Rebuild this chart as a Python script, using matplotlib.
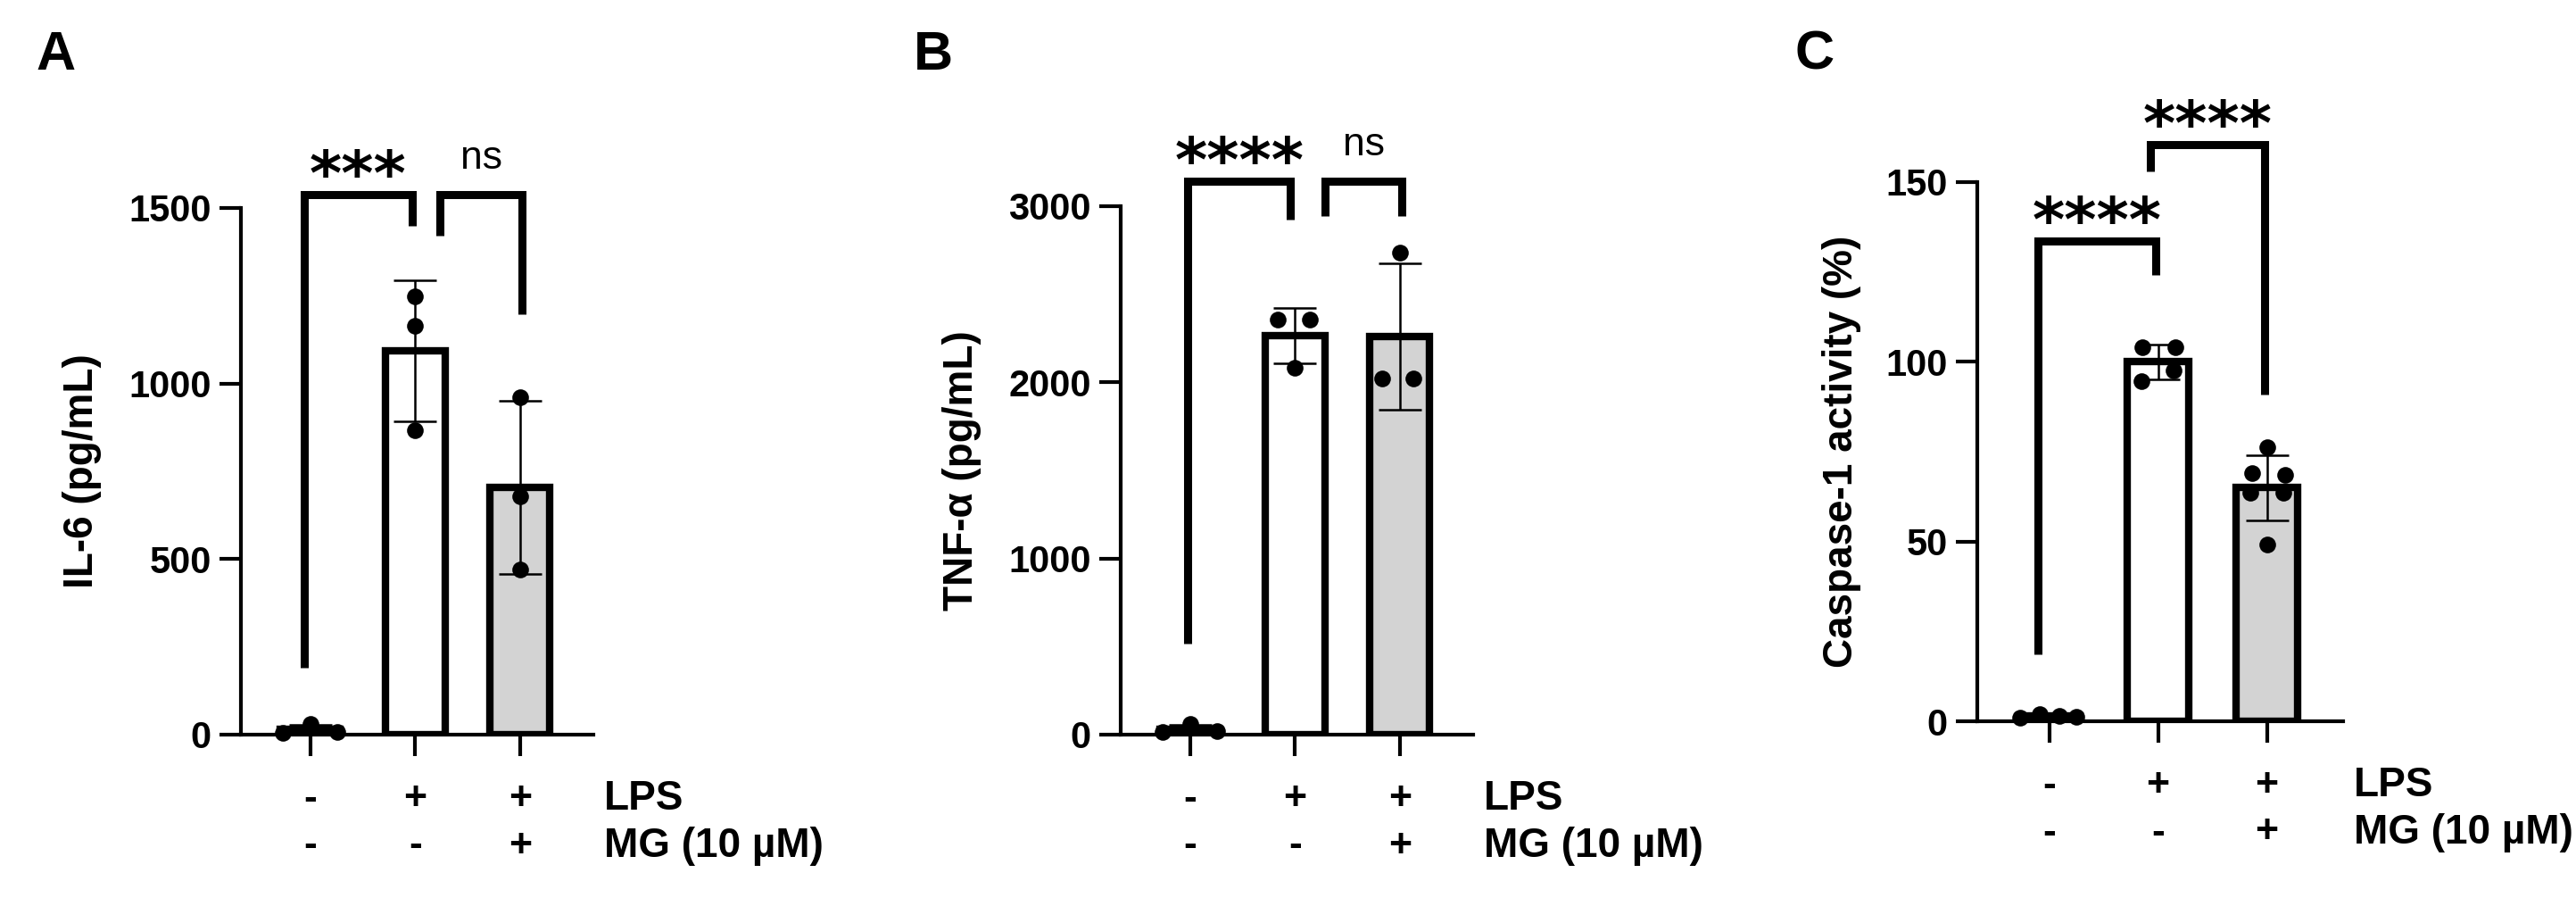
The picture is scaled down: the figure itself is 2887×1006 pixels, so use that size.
import numpy as np
import matplotlib.pyplot as plt

plt.rcParams['font.family'] = ['Liberation Sans', 'DejaVu Sans']

# treatment groups (x positions) and the +/- table under the x axis
groups = [0, 1, 2]
lps_row = ['-', '+', '+']
mg_row = ['-', '-', '+']
row_names = ['LPS', 'MG (10 µM)']
bar_colors = ['white', 'white', '#d3d3d3']

# A: IL-6 (pg/mL), replicate values per group
il6 = [[6, 30, 8], [1249, 1164, 866], [962, 679, 470]]
il6_jit = [[-0.26, 0, 0.26], [0, 0, 0], [0, 0, 0]]
il6_sig = [(-0.06, 0.97, 1538, 191, 1448, '***'),
           (1.24, 2.02, 1538, 1421, 1198, 'ns')]

# B: TNF-a (pg/mL)
tnf = [[15, 60, 20], [2356, 2356, 2085], [2739, 2020, 2020]]
tnf_jit = [[-0.26, 0, 0.26], [-0.16, 0.14, 0], [0, -0.17, 0.13]]
tnf_sig = [(-0.02, 0.96, 3142, 517, 2924, '****'),
           (1.29, 2.02, 3142, 2944, 2944, 'ns')]

# C: caspase-1 activity (%)
casp = [[1.0, 2.0, 1.5, 1.2],
        [104, 104, 94.5, 97.5],
        [76.3, 69.1, 68.6, 63.5, 63.5, 49.1]]
casp_jit = [[-0.27, -0.09, 0.09, 0.25],
            [-0.14, 0.16, -0.15, 0.14],
            [0, -0.14, 0.17, -0.15, 0.15, 0]]
casp_sig = [(-0.10, 0.975, 133.6, 18.6, 124.2, '****'),
            (0.93, 1.98, 160.4, 153, 90.9, '****')]

fig = plt.figure(figsize=(28.87, 10.06), dpi=100)


def panel(rect, vals, jit, sig, ymax, step, ylab, labx, letter, letx):
    ax = fig.add_axes(rect)
    means = [np.mean(v) for v in vals]
    sds = [np.std(v, ddof=1) for v in vals]
    ax.bar(groups, means, width=0.57, color=bar_colors, edgecolor='black',
           linewidth=6, zorder=2)
    ax.errorbar(groups, means, yerr=sds, fmt='none', ecolor='black',
                elinewidth=1.8, capsize=17, capthick=1.8, zorder=3)
    for g, v, j in zip(groups, vals, jit):
        ax.scatter(np.array(j) + g, v, s=180, color='black', zorder=4,
                   clip_on=False, linewidths=0)

    # significance brackets
    for x1, x2, top, yl, yr, txt in sig:
        ax.plot([x1, x1, x2, x2], [yl, top, top, yr], color='black', lw=6.5,
                clip_on=False, solid_joinstyle='miter', solid_capstyle='butt')
        if txt == 'ns':
            ax.annotate(txt, xy=((x1 + x2) / 2, top), xytext=(0, 21),
                        textcoords='offset points', ha='center', va='baseline',
                        fontsize=32, annotation_clip=False)
        else:
            ax.annotate(txt, xy=((x1 + x2) / 2, top), xytext=(0, 0),
                        textcoords='offset points', ha='center', va='baseline',
                        fontsize=50, family='DejaVu Sans', fontweight='bold',
                        annotation_clip=False)

    ax.set_xlim(-0.66, 2.70)
    ax.set_ylim(0, ymax)
    ax.set_yticks(np.arange(0, ymax + 1, step))
    ax.set_xticks(groups)
    ax.set_xticklabels([])
    for s in ['top', 'right']:
        ax.spines[s].set_visible(False)
    for s in ['left', 'bottom']:
        ax.spines[s].set_linewidth(3)
    ax.tick_params(direction='out', length=17, width=3, labelsize=30, pad=7)
    for lbl in ax.get_yticklabels():
        lbl.set_fontweight('bold')
    ax.set_ylabel(ylab, fontsize=33, fontweight='bold')
    ax.yaxis.set_label_coords(labx, 0.5)

    # +/- table
    for g, a, b in zip(groups, lps_row, mg_row):
        ax.annotate(a, xy=(g, 0), xytext=(0, -52), textcoords='offset points',
                    ha='center', va='center', fontsize=32, fontweight='bold',
                    annotation_clip=False)
        ax.annotate(b, xy=(g, 0), xytext=(0, -90), textcoords='offset points',
                    ha='center', va='center', fontsize=32, fontweight='bold',
                    annotation_clip=False)
    for k, name in enumerate(row_names):
        ax.annotate(name, xy=(2.80, 0), xytext=(0, -52 - 38 * k),
                    textcoords='offset points', ha='left', va='center',
                    fontsize=33, fontweight='bold', annotation_clip=False)

    fig.text(letx, 1 - 34 / 1006, letter, fontsize=44, fontweight='bold',
             ha='left', va='top')
    return ax


panel([270 / 2887, 1 - 823 / 1006, 395 / 2887, 590 / 1006], il6, il6_jit,
      il6_sig, 1500, 500, 'IL-6 (pg/mL)', -0.395, 'A', 40 / 2887)
panel([1256 / 2887, 1 - 823 / 1006, 395 / 2887, 592 / 1006], tnf, tnf_jit,
      tnf_sig, 3000, 1000, 'TNF-α (pg/mL)', -0.395, 'B', 1024 / 2887)
panel([2216 / 2887, 1 - 808 / 1006, 410 / 2887, 604 / 1006], casp, casp_jit,
      casp_sig, 150, 50, 'Caspase-1 activity (%)', -0.317, 'C', 2012 / 2887)

fig.savefig('out.png', dpi=100)
